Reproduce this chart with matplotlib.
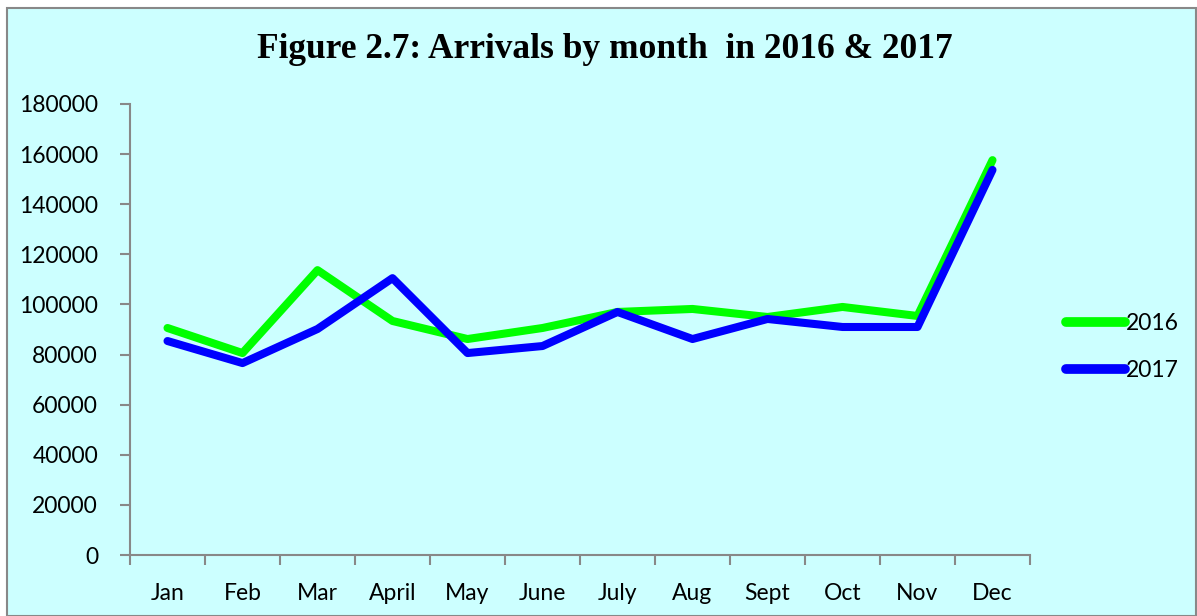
import matplotlib
matplotlib.use("Agg")
import matplotlib.pyplot as plt
from matplotlib.patches import Rectangle
import numpy as np

months = ["Jan", "Feb", "Mar", "April", "May", "June", "July", "Aug", "Sept", "Oct", "Nov", "Dec"]
arrivals_2016 = [90600, 80600, 113700, 93400, 86200, 90600, 97000, 98200, 95000, 99000, 95400, 157600]
arrivals_2017 = [85400, 76600, 90200, 110500, 80600, 83400, 97000, 86200, 94200, 91000, 91000, 153700]
yticks = [0, 20000, 40000, 60000, 80000, 100000, 120000, 140000, 160000, 180000]

W, H = 1197, 616
bg = "#CCFFFF"
fig = plt.figure(figsize=(W / 100, H / 100), dpi=100)
fig.patch.set_facecolor("white")
fig.patches.append(Rectangle((7 / W, 0), (W - 8) / W, (H - 8) / H, transform=fig.transFigure,
                             facecolor=bg, edgecolor="#888888", linewidth=1.5, zorder=-10))

ax = fig.add_axes([130 / W, (H - 555) / H, 900 / W, 451 / H])
ax.set_facecolor(bg)
x = np.arange(len(months))
l1, = ax.plot(x, arrivals_2016, color="#00FF00", lw=5.8, solid_capstyle="round", solid_joinstyle="round", label="2016")
l2, = ax.plot(x, arrivals_2017, color="#0000FF", lw=5.8, solid_capstyle="round", solid_joinstyle="round", label="2017")

fam = "Lato"
ax.set_xlim(-0.5, len(months) - 0.5)
ax.set_ylim(0, 180000)
ax.set_yticks(yticks)
ax.set_yticklabels([str(v) for v in yticks], fontsize=16.5, family=fam)
ax.set_xticks(np.arange(-0.5, len(months), 1.0))
ax.set_xticklabels([])
ax.set_xticks(x, minor=True)
ax.set_xticklabels(months, minor=True, fontsize=16.5, family=fam)
ax.tick_params(axis="x", which="minor", length=0, pad=20)
ax.tick_params(axis="x", which="major", length=7, color="#888888", width=1.5, direction="out")
ax.tick_params(axis="y", length=7, color="#888888", width=1.5, direction="out", pad=16)
for s in ["top", "right"]:
    ax.spines[s].set_visible(False)
for s in ["left", "bottom"]:
    ax.spines[s].set_color("#888888")
    ax.spines[s].set_linewidth(1.5)

fig.text(605 / W, 1 - 50 / H, "Figure 2.7: Arrivals by month  in 2016 & 2017", ha="center", va="center",
         fontsize=25.5, fontweight="bold", family="Liberation Serif")

leg = fig.legend(handles=[l1, l2], loc="center left", bbox_to_anchor=(1045 / W, 1 - 347 / H),
                 frameon=False, prop={"family": fam, "size": 16.5},
                 handlelength=2.6, handletextpad=0.05, labelspacing=1.15)
for h in leg.legend_handles:
    h.set_linewidth(7)

fig.savefig("out.png", dpi=100, facecolor=fig.get_facecolor())
